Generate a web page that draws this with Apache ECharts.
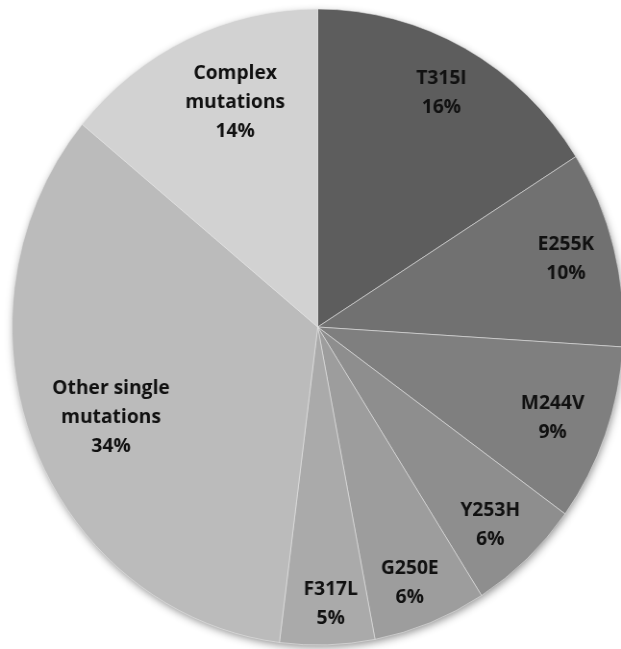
<!DOCTYPE html>
<html>
<head>
<meta charset="utf-8">
<script src="https://cdn.jsdelivr.net/npm/echarts@6/dist/echarts.min.js"></script>
<style>
  html, body { margin: 0; padding: 0; background: #ffffff; overflow: hidden; }
  #wrap { width: 621px; height: 649px; overflow: hidden; position: relative; }
  /* the pie is drawn slightly narrower than tall */
  #chart { width: 646px; height: 649px; transform: scaleX(0.9613); transform-origin: 0 0; }
</style>
</head>
<body>
<div id="wrap"><div id="chart"></div></div>
<script>
// Mutation types, clockwise from 12 o'clock
const categories = ['T315I', 'E255K', 'M244V', 'Y253H', 'G250E', 'F317L',
                    'Other single\nmutations', 'Complex\nmutations'];
// Share of cases, percent
const shares = [16, 10, 9, 6, 6, 5, 34, 14];

// Grey shade for each slice
const sliceColors = ['#5d5d5d', '#717171', '#7f7f7f', '#8e8e8e', '#9d9d9d',
                     '#aaaaaa', '#bbbbbb', '#d2d2d2'];
// Label placement: fraction of radius and angular nudge (degrees)
const labelRadius = [0.84, 0.84, 0.82, 0.84, 0.86, 0.87, 0.733, 0.757];
const labelNudge = [0, -0.4, 0.6, 1, 1.1, -1, -1.1, 4.3];

const CX = 330.5, CY = 327, R = 318;

const total = shares.reduce((a, b) => a + b, 0);
const midAngles = [];
let acc = 0;
shares.forEach(v => { midAngles.push((acc + v / 2) / total * 360); acc += v; });

const chart = echarts.init(document.getElementById('chart'), null, { renderer: 'canvas' });

chart.setOption({
  animation: false,
  backgroundColor: '#ffffff',
  series: [
    {
      // soft shadow under the whole disc
      type: 'pie',
      silent: true,
      center: [CX, CY],
      radius: [0, R - 1],
      label: { show: false },
      labelLine: { show: false },
      z: 1,
      data: [{ value: 1, itemStyle: { color: '#bbbbbb', shadowBlur: 8, shadowColor: 'rgba(0,0,0,0.45)', shadowOffsetX: 1, shadowOffsetY: 3 } }]
    },
    {
      type: 'pie',
      center: [CX, CY],
      radius: [0, R],
      startAngle: 90,
      clockwise: true,
      z: 2,
      itemStyle: { borderColor: 'rgba(235,235,235,0.55)', borderWidth: 1 },
      label: {
        show: true,
        position: 'inside',
        formatter: p => p.name + '\n' + p.value + '%',
        fontFamily: 'Open Sans',
        fontWeight: 700,
        fontSize: 20,
        lineHeight: 29,
        color: '#111111',
        align: 'center',
        verticalAlign: 'middle'
      },
      labelLine: { show: false },
      labelLayout: function (params) {
        const i = params.dataIndex;
        const a = (midAngles[i] + labelNudge[i]) * Math.PI / 180;
        const r = R * labelRadius[i];
        return { x: CX + r * Math.sin(a), y: CY - r * Math.cos(a) };
      },
      data: categories.map((name, i) => ({
        name: name,
        value: shares[i],
        itemStyle: { color: sliceColors[i] }
      }))
    }
  ]
});
</script>
</body>
</html>
